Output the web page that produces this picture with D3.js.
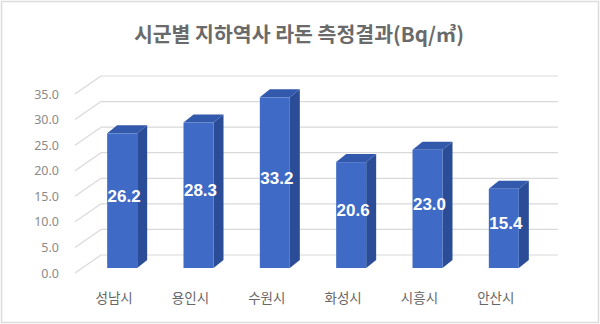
<!DOCTYPE html>
<html>
<head>
<meta charset="utf-8">
<script src="https://cdn.jsdelivr.net/npm/d3@7"></script>
<style>
body { margin: 0; background: #fff; }
svg { display: block; }
</style>
</head>
<body>
<div id="chart"></div>
<script>
var w = 600;
var h = 324;

// data
var cities = ["성남시", "용인시", "수원시", "화성시", "시흥시", "안산시"];
var radon = [26.2, 28.3, 33.2, 20.6, 23.0, 15.4];
var ticks = [0, 5, 10, 15, 20, 25, 30, 35];
var title = "시군별 지하역사 라돈 측정결과(Bq/㎥)";

var svg = d3.select("#chart")
            .append("svg")
            .attr("width", w)
            .attr("height", h);

// light frame round the picture
svg.append("rect")
   .attr("x", 1.5).attr("y", 1.5)
   .attr("width", w - 3).attr("height", h - 3)
   .style("fill", "#fff")
   .style("stroke", "#dcdcdc")
   .style("stroke-width", 1.5);

svg.append("text")
   .attr("x", 299)
   .attr("y", 42)
   .attr("text-anchor", "middle")
   .style("font-family", "'Noto Sans CJK KR', sans-serif")
   .style("font-size", "20.5px")
   .style("font-weight", "bold")
   .style("fill", "#6a6a6a")
   .text(title);

// 3d depth of the plot box (front plane -> back wall)
var depth = { dx: 26, dy: -18 };

var yFront = d3.scaleLinear().domain([0, 35]).range([273, 94]);
var yBack = function(v) { return yFront(v) + depth.dy; };

var x = d3.scaleBand()
          .domain(cities)
          .range([84, 542])
          .paddingInner(0.6)
          .paddingOuter(0.3);

// bars sit a bit behind the front plane
var yBar = d3.scaleLinear().domain([0, 35]).range([268, 268 - 35 * 5.14]);
var barW = 30;
var bd = { dx: 10, dy: -8 };

var grid = svg.append("g");

// back wall gridlines
grid.selectAll("line.back")
    .data(ticks)
    .enter()
    .append("line")
    .attr("class", "back")
    .attr("x1", 75 + depth.dx)
    .attr("x2", 558)
    .attr("y1", function(d) { return yBack(d); })
    .attr("y2", function(d) { return yBack(d); })
    .style("stroke", "#d9d9d9")
    .style("stroke-width", 1.2);

// side wall diagonals
grid.selectAll("line.side")
    .data(ticks)
    .enter()
    .append("line")
    .attr("class", "side")
    .attr("x1", 75)
    .attr("x2", 75 + depth.dx)
    .attr("y1", function(d) { return yFront(d); })
    .attr("y2", function(d) { return yBack(d); })
    .style("stroke", "#d9d9d9")
    .style("stroke-width", 1.2);

svg.selectAll("text.tick")
   .data(ticks)
   .enter()
   .append("text")
   .attr("class", "tick")
   .attr("x", 59)
   .attr("y", function(d) { return yFront(d) + 4.5; })
   .attr("text-anchor", "end")
   .style("font-family", "'Noto Sans', sans-serif")
   .style("font-size", "12.5px")
   .style("fill", "#8a8a8a")
   .text(function(d) { return d3.format(".1f")(d); });

var bars = svg.selectAll("g.bar")
              .data(radon)
              .enter()
              .append("g")
              .attr("class", "bar");

function x0(d, i) { return x(cities[i]) + x.bandwidth() / 2 - barW / 2; }

// side face
bars.append("path")
    .attr("d", function(d, i) {
        var a = x0(d, i) + barW, t = yBar(d), b = yBar(0);
        return "M" + a + "," + t + "L" + (a + bd.dx) + "," + (t + bd.dy) +
               "L" + (a + bd.dx) + "," + (b + bd.dy) + "L" + a + "," + b + "Z";
    })
    .style("fill", "#2b4d98");

// top face
bars.append("path")
    .attr("d", function(d, i) {
        var a = x0(d, i), t = yBar(d);
        return "M" + a + "," + t + "L" + (a + bd.dx) + "," + (t + bd.dy) +
               "L" + (a + barW + bd.dx) + "," + (t + bd.dy) + "L" + (a + barW) + "," + t + "Z";
    })
    .style("fill", "#3259ac");

// front face
bars.append("rect")
    .attr("x", function(d, i) { return x0(d, i); })
    .attr("y", function(d) { return yBar(d); })
    .attr("width", barW)
    .attr("height", function(d) { return yBar(0) - yBar(d); })
    .style("fill", "#3f6bc6");

bars.append("text")
    .attr("x", function(d, i) { return x0(d, i) + barW / 2 + 2; })
    .attr("y", function(d) { return (yBar(d) + yBar(0)) / 2 + 1; })
    .attr("text-anchor", "middle")
    .style("font-family", "'Liberation Sans', Arial, sans-serif")
    .style("font-size", "17px")
    .style("font-weight", "bold")
    .style("fill", "#fff")
    .text(function(d) { return d3.format(".1f")(d); });

svg.selectAll("text.cat")
   .data(cities)
   .enter()
   .append("text")
   .attr("class", "cat")
   .attr("x", function(d) { return x(d) + x.bandwidth() / 2 - 8; })
   .attr("y", 303)
   .attr("text-anchor", "middle")
   .style("font-family", "'Noto Sans CJK KR', sans-serif")
   .style("font-size", "13.5px")
   .style("fill", "#666")
   .text(function(d) { return d; });
</script>
</body>
</html>
